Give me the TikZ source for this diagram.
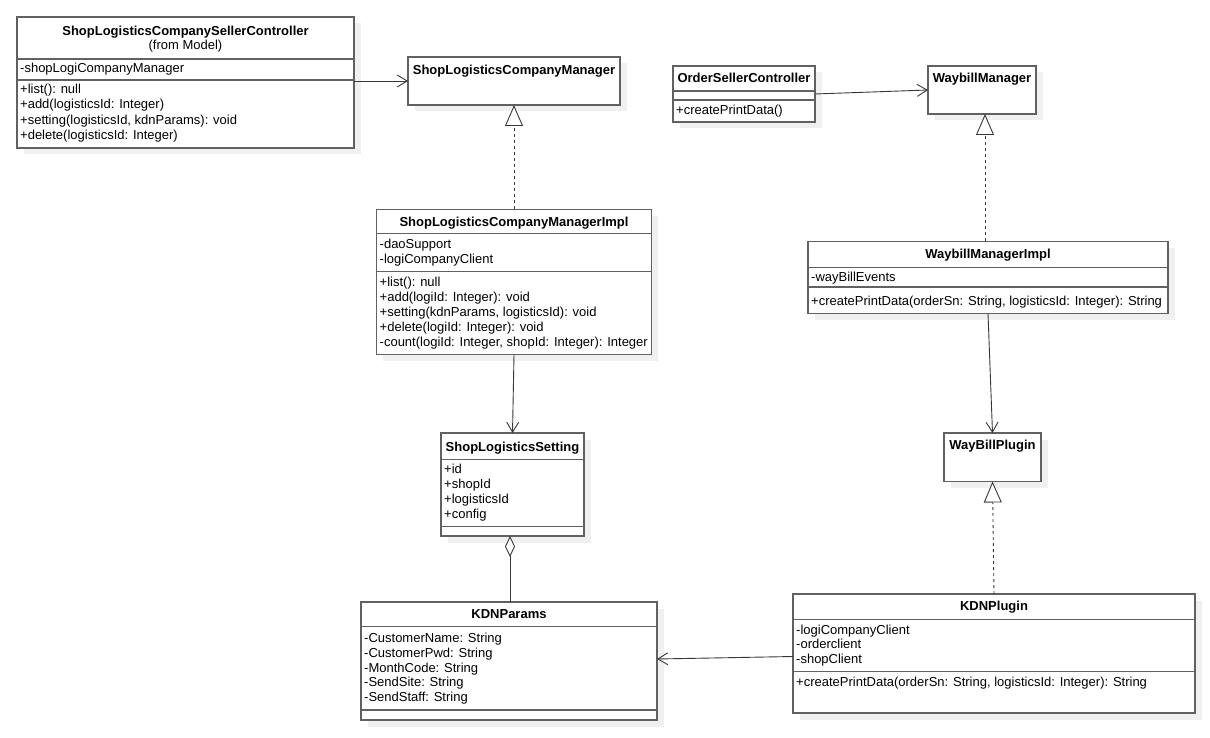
\documentclass[tikz,border=0pt]{standalone}
\usepackage{fontspec}
\setmainfont{Liberation Sans}
\usetikzlibrary{arrows.meta,shadows}
\begin{document}
\begin{tikzpicture}[x=1pt,y=-1pt,
  cls/.style={draw=black!62, line width=1.3pt, fill=white, inner sep=0pt, outer sep=0pt,
    anchor=north west, general shadow={fill=black!6, shadow xshift=6.5pt, shadow yshift=-6.5pt}},
  divl/.style={draw=black!62, line width=1.3pt},
  ttl/.style={anchor=base, inner sep=0pt, font=\fontsize{13pt}{15pt}\selectfont\bfseries},
  sub/.style={anchor=base, inner sep=0pt, font=\fontsize{13pt}{15pt}\selectfont},
  mem/.style={anchor=base west, inner sep=0pt, font=\fontsize{13pt}{15pt}\selectfont},
  assoc/.style={draw=black!78, line width=0.9pt, -{Straight Barb[length=10pt,width=12pt,line width=0.9pt]}},
  real/.style={draw=black!78, line width=0.9pt, dash pattern=on 3pt off 3pt,
    -{Triangle[open,length=21pt,width=18pt,line width=0.9pt,fill=white]}},
  aggr/.style={draw=black!78, line width=0.9pt, {Diamond[open,length=21pt,width=10pt,line width=0.9pt,fill=white]}-}
]
\useasboundingbox (0,0) rectangle (1210,738);

% ShopLogisticsCompanySellerController
\node[cls, minimum width=337pt, minimum height=131pt] (slcsc) at (17,17) {};
\draw[divl] (17,59) -- (354,59);
\draw[divl] (17,80) -- (354,80);
\node[ttl] (slcscT) at (185.5,36) {ShopLogisticsCompanySellerController};
\node[sub] (slcscS) at (185.5,50) {(from Model)};
\node[mem] (slcscA1) at (20,73) {-shopLogiCompanyManager};
\node[mem] (slcscM1) at (20,93.5) {+list(): null};
\node[mem] (slcscM2) at (20,108.8) {+add(logisticsId: Integer)};
\node[mem] (slcscM3) at (20,124.1) {+setting(logisticsId, kdnParams): void};
\node[mem] (slcscM4) at (20,139.4) {+delete(logisticsId: Integer)};

% ShopLogisticsCompanyManager
\node[cls, minimum width=212pt, minimum height=48pt] (slcm) at (408,57) {};
\node[ttl] (slcmT) at (514,75) {ShopLogisticsCompanyManager};

% OrderSellerController
\node[cls, minimum width=142pt, minimum height=56pt] (osc) at (673,66) {};
\draw[divl] (673,91) -- (815,91);
\draw[divl] (673,100) -- (815,100);
\node[ttl] (oscT) at (744,83) {OrderSellerController};
\node[mem] (oscM1) at (676,115) {+createPrintData()};

% WaybillManager
\node[cls, minimum width=108pt, minimum height=48pt] (wm) at (928,66) {};
\node[ttl] (wmT) at (982,83) {WaybillManager};

% ShopLogisticsCompanyManagerImpl
\node[cls, minimum width=275pt, minimum height=145pt] (impl) at (376.5,209.5) {};
\draw[divl] (376.5,233.5) -- (651.5,233.5);
\draw[divl] (376.5,271.5) -- (651.5,271.5);
\node[ttl] (implT) at (514,226.7) {ShopLogisticsCompanyManagerImpl};
\node[mem] (implA1) at (379.5,248.3) {-daoSupport};
\node[mem] (implA2) at (379.5,263.5) {-logiCompanyClient};
\node[mem] (implM1) at (379.5,286) {+list(): null};
\node[mem] (implM2) at (379.5,301.2) {+add(logiId: Integer): void};
\node[mem] (implM3) at (379.5,316.4) {+setting(kdnParams, logisticsId): void};
\node[mem] (implM4) at (379.5,331.6) {+delete(logiId: Integer): void};
\node[mem] (implM5) at (379.5,346.8) {-count(logiId: Integer, shopId: Integer): Integer};

% WaybillManagerImpl
\node[cls, minimum width=360pt, minimum height=72pt] (wmi) at (808,241.5) {};
\draw[divl] (808,267.5) -- (1168,267.5);
\draw[divl] (808,287) -- (1168,287);
\node[ttl] (wmiT) at (988,258.3) {WaybillManagerImpl};
\node[mem] (wmiA1) at (811,281.7) {-wayBillEvents};
\node[mem] (wmiM1) at (811,305) {+createPrintData(orderSn: String, logisticsId: Integer): String};

% ShopLogisticsSetting
\node[cls, minimum width=143pt, minimum height=103pt] (sls) at (441,433) {};
\draw[divl] (441,459.5) -- (584,459.5);
\draw[divl] (441,526.5) -- (584,526.5);
\node[ttl] (slsT) at (512.5,451.7) {ShopLogisticsSetting};
\node[mem] (slsA1) at (444,473.3) {+id};
\node[mem] (slsA2) at (444,488.5) {+shopId};
\node[mem] (slsA3) at (444,503.7) {+logisticsId};
\node[mem] (slsA4) at (444,518.9) {+config};

% WayBillPlugin
\node[cls, minimum width=97pt, minimum height=48.5pt] (wbp) at (944,433) {};
\node[ttl] (wbpT) at (992.5,449.3) {WayBillPlugin};

% KDNParams
\node[cls, minimum width=296pt, minimum height=118pt] (kdnp) at (361,602) {};
\draw[divl] (361,626.7) -- (657,626.7);
\draw[divl] (361,710) -- (657,710);
\node[ttl] (kdnpT) at (509,618.3) {KDNParams};
\node[mem] (kdnpA1) at (364,642.3) {-CustomerName: String};
\node[mem] (kdnpA2) at (364,657.2) {-CustomerPwd: String};
\node[mem] (kdnpA3) at (364,672) {-MonthCode: String};
\node[mem] (kdnpA4) at (364,686.8) {-SendSite: String};
\node[mem] (kdnpA5) at (364,701.7) {-SendStaff: String};

% KDNPlugin
\node[cls, minimum width=402pt, minimum height=119pt] (kdnpl) at (793,594) {};
\draw[divl] (793,619.3) -- (1195,619.3);
\draw[divl] (793,671.7) -- (1195,671.7);
\node[ttl] (kdnplT) at (994,610.7) {KDNPlugin};
\node[mem] (kdnplA1) at (796,634) {-logiCompanyClient};
\node[mem] (kdnplA2) at (796,648.8) {-orderclient};
\node[mem] (kdnplA3) at (796,663.5) {-shopClient};
\node[mem] (kdnplM1) at (796,686.7) {+createPrintData(orderSn: String, logisticsId: Integer): String};

% connectors
\draw[assoc] (slcsc.east |- slcm.west) -- (slcm.west);
\draw[assoc] (osc.east) -- (wm.west);
\draw[real] (impl.north) -- (impl.north |- slcm.south);
\draw[real] ([xshift=-3pt]wmi.north) -- ([xshift=3pt]wm.south);
\draw[assoc] (impl.south) -- (sls.north);
\draw[assoc] (wmi.south) -- (wbp.north);
\draw[aggr] ([xshift=-2.5pt]sls.south) -- ([xshift=-2.5pt]sls.south |- kdnp.north);
\draw[assoc] ([yshift=-3pt]kdnpl.west) -- ([yshift=2pt]kdnp.east);
\draw[real] (kdnpl.north) -- (wbp.south);
\end{tikzpicture}
\end{document}
